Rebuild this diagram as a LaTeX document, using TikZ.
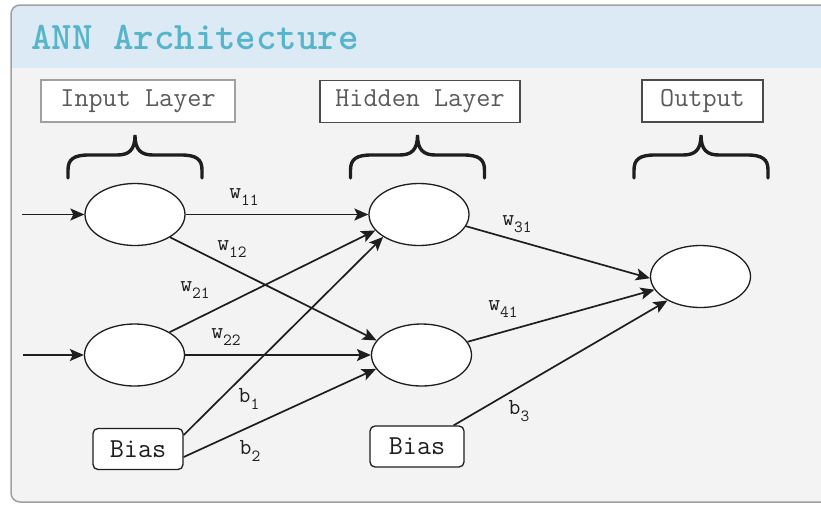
\documentclass[tikz,border=0pt]{standalone}
\usepackage{fontspec}
\usetikzlibrary{shapes.geometric,arrows.meta}
\definecolor{panelbg}{HTML}{F3F3F3}
\definecolor{panelline}{HTML}{A0A0A0}
\definecolor{titlebg}{HTML}{DBEAF5}
\definecolor{titlefg}{HTML}{58B5C9}
\definecolor{inkdark}{HTML}{1E1E1E}
\definecolor{labelgray}{HTML}{5A5A5A}
\newcommand\lblsub[2]{#1\raisebox{-0.32em}{\fontsize{17}{17}\selectfont #2}}
\tikzset{
  neuron/.style={ellipse, draw=inkdark, line width=1.3pt, fill=white, inner sep=0pt,
                 minimum width=100pt, minimum height=62pt},
  layerbox/.style={rectangle, draw=#1, line width=1.4pt, fill=white, text=labelgray,
                 font=\ttfamily\fontsize{27.4}{30}\selectfont, inner sep=0pt},
  biasbox/.style={rectangle, rounded corners=5pt, draw=inkdark, line width=1.3pt, fill=white,
                 text=inkdark, font=\ttfamily\fontsize{27.4}{30}\selectfont, inner sep=0pt,
                 minimum width=90pt, minimum height=41pt},
  conn/.style={draw=inkdark, line width=1.7pt, -{Stealth[length=14pt,width=12pt,inset=3pt]}},
  wlabel/.style={text=inkdark, font=\ttfamily\fontsize{23}{25}\selectfont, inner sep=0pt},
  cbrace/.pic={\draw[inkdark, line width=3.4pt, line cap=round]
     (-67,43) -- (-67,35) .. controls (-67,24) and (-61,20) .. (-46,20) -- (-18,20)
     .. controls (-6,20) and (0,15) .. (0,0)
     .. controls (0,15) and (6,20) .. (18,20) -- (46,20)
     .. controls (61,20) and (67,24) .. (67,35) -- (67,43);}
}
\begin{document}
\begin{tikzpicture}[x=1pt,y=-1pt]
\useasboundingbox (0,0) rectangle (821,504);
% panel
\begin{scope}
  \clip[rounded corners=9pt] (11,5) rectangle (850,502);
  \fill[panelbg] (11,5) rectangle (850,502);
  \fill[titlebg] (11,5) rectangle (850,68);
\end{scope}
\draw[panelline, line width=1.5pt, rounded corners=9pt] (11,5) rectangle (850,502);
\node[text=titlefg, font=\ttfamily\bfseries\fontsize{39}{40}\selectfont, anchor=west, inner sep=0pt]
  (title) at (31,37) {ANN Architecture};

% layer headings
\node[layerbox=panelline, line width=2pt, minimum width=194pt, minimum height=42pt] (inlbl) at (138,101) {Input Layer};
\node[layerbox=inkdark!80, line width=1.2pt, minimum width=200pt, minimum height=42pt] (hidlbl) at (420,101.5) {Hidden Layer};
\node[layerbox=inkdark!80, line width=1.2pt, minimum width=121pt, minimum height=42pt] (outlbl) at (702.5,101) {Output};

% braces
\pic at (135,135) {cbrace};
\pic at (417.5,135) {cbrace};
\pic at (701,135) {cbrace};

% neurons
\node[neuron] (in1) at (135,214.5) {};
\node[neuron] (in2) at (134.5,355) {};
\node[neuron] (h1) at (419,214.5) {};
\node[neuron] (h2) at (421.5,355) {};
\node[neuron] (out) at (700.5,276.5) {};
\node[biasbox] (bias1) at (138,449) {Bias};
\node[biasbox, minimum width=94pt] (bias2) at (417,446.5) {Bias};

\coordinate (x1) at (22,214.5);
\coordinate (x2) at (23,355);

% connectors
\draw[conn] (x1) -- (in1);
\draw[conn] (x2) -- (in2);
\draw[conn] (in1) -- (h1);
\draw[conn] (in1.-33) -- (h2.162);
\draw[conn] (in2.33) -- (h1.200);
\draw[conn] (in2) -- (h2);
\draw[conn] (bias1.17) -- (h1.212);
\draw[conn] (bias1.-10) -- (h2.197);
\draw[conn] (h1.-14) -- (out.182);
\draw[conn] (h2.16) -- (out.196);
\draw[conn] (bias2.30) -- (out.216);

% weight labels
\node[wlabel] (lw11) at (244,197) {\lblsub{w}{11}};
\node[wlabel] (lw12) at (232,249) {\lblsub{w}{12}};
\node[wlabel] (lw21) at (195,290) {\lblsub{w}{21}};
\node[wlabel] (lw22) at (226,337) {\lblsub{w}{22}};
\node[wlabel] (lb1) at (249,399) {\lblsub{b}{1}};
\node[wlabel] (lb2) at (250,451) {\lblsub{b}{2}};
\node[wlabel] (lw31) at (517,224) {\lblsub{w}{31}};
\node[wlabel] (lw41) at (503,309) {\lblsub{w}{41}};
\node[wlabel] (lb3) at (519,411) {\lblsub{b}{3}};
\end{tikzpicture}
\end{document}
